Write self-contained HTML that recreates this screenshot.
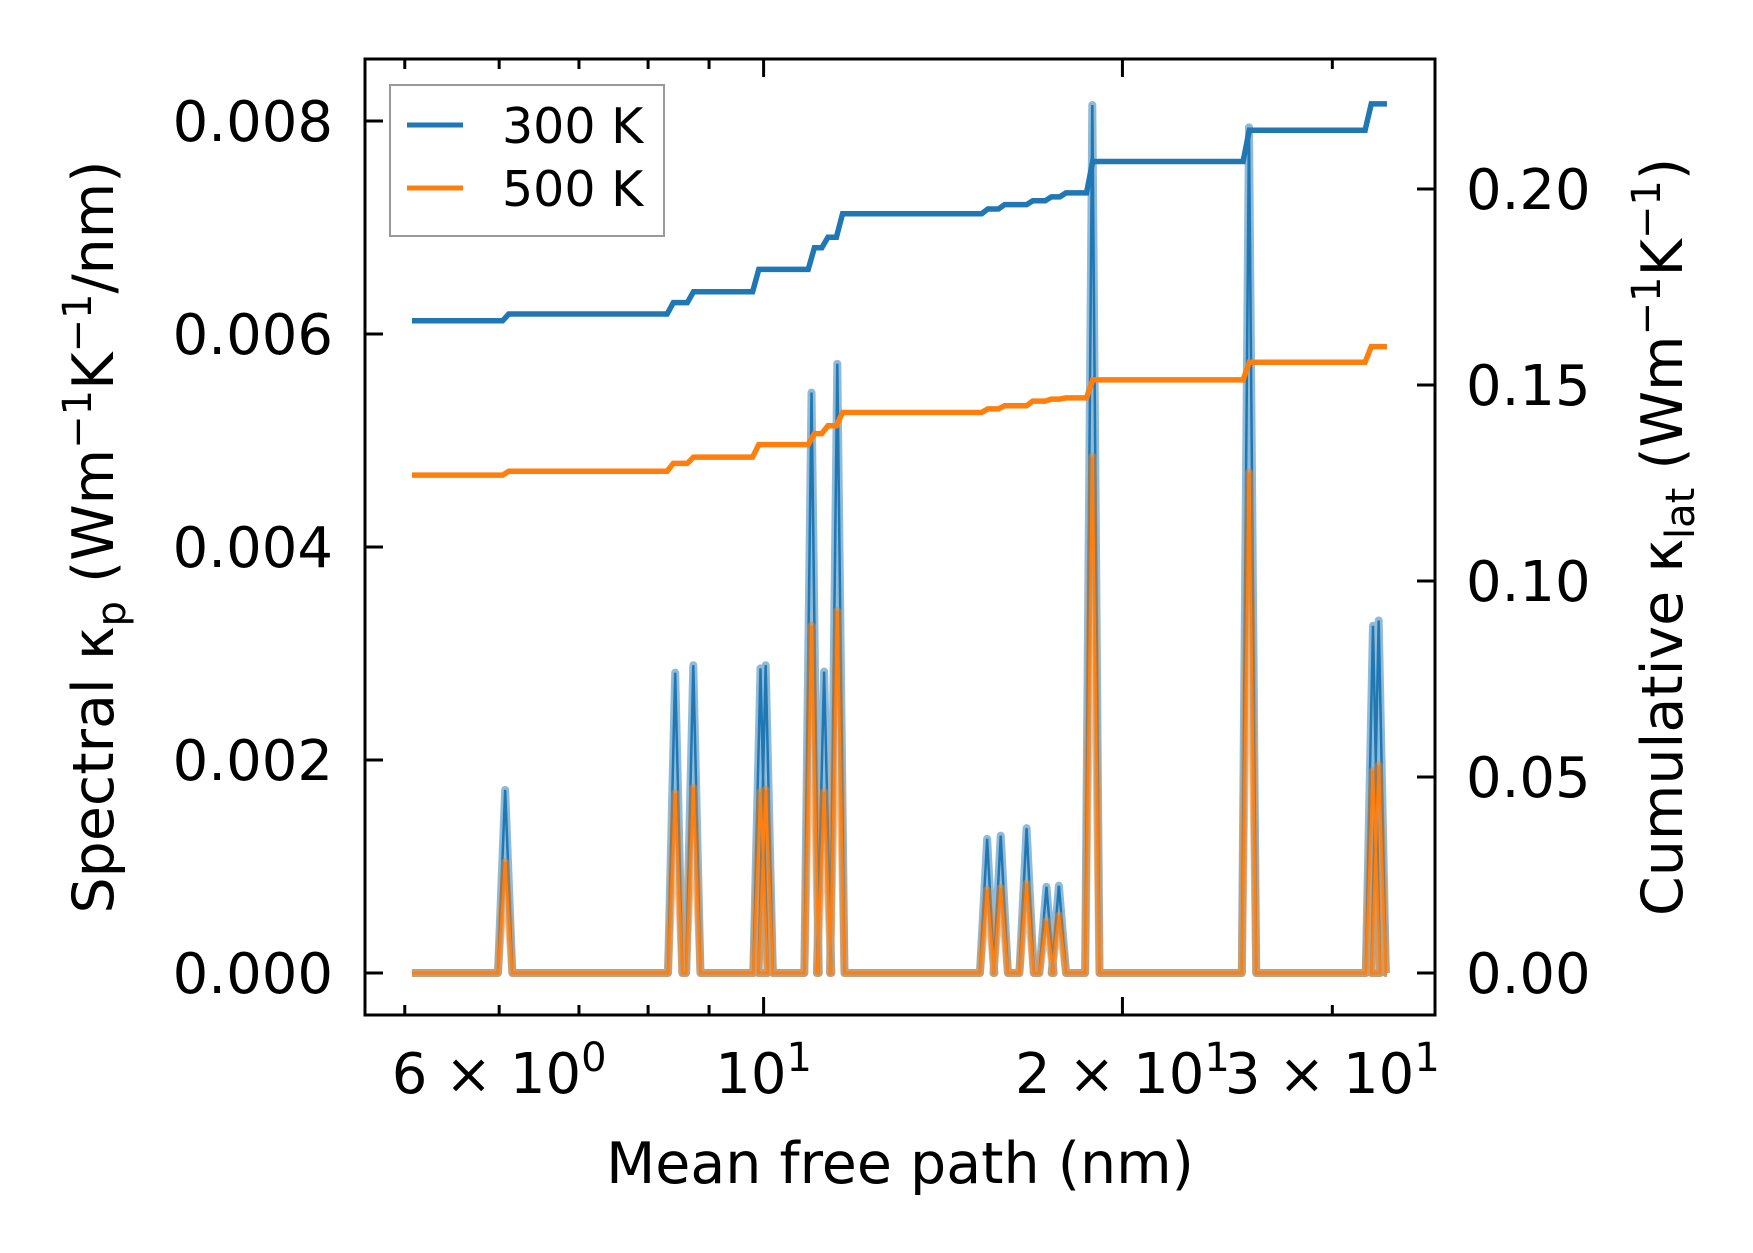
<!DOCTYPE html>
<html><head><meta charset="utf-8"><style>
html,body{margin:0;padding:0;background:#fff;}
svg{display:block;font-family:"DejaVu Sans","Liberation Sans",sans-serif;}
</style></head><body>
<svg id="chart" width="1753" height="1253" viewBox="0 0 1753 1253" xmlns="http://www.w3.org/2000/svg"></svg>
<script>
// ---- data ----
const peakMfp = [6.07, 8.43, 8.73, 9.94, 10.04, 10.97, 11.24, 11.53, 15.40, 15.81, 16.62, 17.27, 17.69, 18.87, 25.54, 32.45, 32.81];
const spec300 = [0.00172, 0.00282, 0.00289, 0.00286, 0.00289, 0.00545, 0.00283, 0.00572, 0.00126, 0.00129, 0.00136, 0.00081, 0.00082, 0.00815, 0.00794, 0.00326, 0.00331];
const spec500 = [0.00104, 0.00169, 0.00174, 0.00170, 0.00172, 0.00326, 0.00170, 0.00340, 0.00078, 0.00080, 0.00084, 0.00049, 0.00054, 0.00485, 0.00470, 0.00190, 0.00195];
const stepMfp = [5.07, 6.04, 8.30, 8.63, 9.79, 10.90, 11.19, 11.51, 15.24, 15.74, 16.62, 17.23, 17.72, 18.66, 25.25, 31.96];
const cum300 = [0.1664, 0.1681, 0.1710, 0.1738, 0.1795, 0.1850, 0.1877, 0.1937, 0.1949, 0.1960, 0.1970, 0.1980, 0.1990, 0.2070, 0.2150, 0.2217];
const cum500 = [0.1270, 0.1280, 0.1300, 0.1316, 0.1348, 0.1376, 0.1396, 0.1430, 0.1439, 0.1447, 0.1459, 0.1464, 0.1467, 0.1513, 0.1558, 0.1598];
const xStart = 5.07, xEnd = 33.34;
const leftTicks = [0, 0.002, 0.004, 0.006, 0.008];
const leftTickLabels = ["0.000", "0.002", "0.004", "0.006", "0.008"];
const rightTicks = [0, 0.05, 0.10, 0.15, 0.20];
const rightTickLabels = ["0.00", "0.05", "0.10", "0.15", "0.20"];
const xMajor = [10];
const xMinor = [5, 6, 7, 8, 9, 20, 30];

// ---- axes ----
const L = 365, R = 1435, T = 59, B = 1015;
const x10 = 763.6, decade = 1192;
const X = v => x10 + Math.log10(v / 10) * decade;
const YL = v => 973 - v / 0.002 * 213;
const YR = v => 973 - v / 0.05 * 196;
const NS = "http://www.w3.org/2000/svg";
const svg = document.getElementById('chart');
function el(tag, attrs, parent) {
  const e = document.createElementNS(NS, tag);
  for (const k in attrs) e.setAttribute(k, attrs[k]);
  (parent || svg).appendChild(e);
  return e;
}

function specPath(vals) {
  let d = `M${X(xStart)},${YL(0)}`;
  peakMfp.forEach((m, i) => {
    d += ` L${X(m / 1.014)},${YL(0)} L${X(m)},${YL(vals[i])} L${X(m * 1.014)},${YL(0)}`;
  });
  d += ` L${X(xEnd)},${YL(0)}`;
  return d;
}
function cumPath(vals) {
  let d = `M${X(stepMfp[0])},${YR(vals[0])}`;
  for (let i = 1; i < stepMfp.length; i++) {
    d += ` L${X(stepMfp[i])},${YR(vals[i - 1])} L${X(stepMfp[i] * 1.012)},${YR(vals[i])}`;
  }
  d += ` L${X(xEnd)},${YR(vals[vals.length - 1])}`;
  return d;
}
const g = el('g', {});


let p;
p = el('path', {d: specPath(spec300), fill: 'none', stroke: '#1f77b4', 'stroke-opacity': 0.5, 'stroke-width': 8, 'stroke-linejoin': 'round'}, g);


p = el('path', {d: specPath(spec300), fill: 'none', stroke: '#1f77b4', 'stroke-width': 2.5}, g);


p = el('path', {d: specPath(spec500), fill: 'none', stroke: '#ff7f0e', 'stroke-opacity': 0.5, 'stroke-width': 8, 'stroke-linejoin': 'round'}, g);


p = el('path', {d: specPath(spec500), fill: 'none', stroke: '#ff7f0e', 'stroke-width': 2.5}, g);


p = el('path', {d: cumPath(cum300), fill: 'none', stroke: '#1f77b4', 'stroke-width': 5.5}, g);


p = el('path', {d: cumPath(cum500), fill: 'none', stroke: '#ff7f0e', 'stroke-width': 5.5}, g);



const fr = el('rect', {x: L, y: T, width: R - L, height: B - T, fill: 'none', stroke: '#000', 'stroke-width': 3});



const tg = el('g', {stroke: '#000', 'stroke-width': 3});


leftTicks.forEach(v => el('line', {x1: L, x2: L + 18, y1: YL(v), y2: YL(v)}, tg));
rightTicks.forEach(v => el('line', {x1: R, x2: R - 18, y1: YR(v), y2: YR(v)}, tg));
xMajor.concat([20]).forEach(v => {
  el('line', {x1: X(v), x2: X(v), y1: B, y2: B - 18}, tg);
  el('line', {x1: X(v), x2: X(v), y1: T, y2: T + 18}, tg);
});
xMinor.filter(v => v !== 20).forEach(v => {
  el('line', {x1: X(v), x2: X(v), y1: B, y2: B - 10}, tg);
  el('line', {x1: X(v), x2: X(v), y1: T, y2: T + 10}, tg);
});

const fs = 56;
leftTicks.forEach((v, i) => {
  const t = el('text', {x: 333, y: YL(v) + 20, 'text-anchor': 'end', 'font-size': fs});
  t.textContent = leftTickLabels[i];
  
  
});
rightTicks.forEach((v, i) => {
  const t = el('text', {x: 1466, y: YR(v) + 20, 'font-size': fs});
  t.textContent = rightTickLabels[i];
  
  
});
function xlabel(v, pre, exp) {
  const t = el('text', {x: X(v), y: 1093, 'text-anchor': 'middle', 'font-size': fs});
  
  
  const a = el('tspan', {}, t); a.textContent = pre;
  const b = el('tspan', {dy: -22, 'font-size': 40}, t); b.textContent = exp;
}
xlabel(6, '6 \u00d7 10', '0');
xlabel(10, '10', '1');
xlabel(20, '2 \u00d7 10', '1');
xlabel(30, '3 \u00d7 10', '1');
</script>
<svg style="position:absolute;left:0;top:0" width="1753" height="1253">
  <text x="900" y="1183" text-anchor="middle" font-size="57" font-family="DejaVu Sans, Liberation Sans, sans-serif">Mean free path (nm)</text>
  <text transform="translate(113,537) rotate(-90)" text-anchor="middle" font-size="57" font-family="DejaVu Sans, Liberation Sans, sans-serif">Spectral κ<tspan font-size="40" dy="12">p</tspan><tspan dy="-12"> (Wm</tspan><tspan font-size="40" dy="-22">−1</tspan><tspan dy="22">K</tspan><tspan font-size="40" dy="-22">−1</tspan><tspan dy="22">/nm)</tspan></text>
  <text transform="translate(1682,537) rotate(-90)" text-anchor="middle" font-size="57" font-family="DejaVu Sans, Liberation Sans, sans-serif">Cumulative κ<tspan font-size="40" dy="12">lat</tspan><tspan dy="-12"> (Wm</tspan><tspan font-size="40" dy="-22">−1</tspan><tspan dy="22">K</tspan><tspan font-size="40" dy="-22">−1</tspan><tspan dy="22">)</tspan></text>
  <g font-family="DejaVu Sans, Liberation Sans, sans-serif">
    <rect x="390" y="85" width="274" height="151" fill="#fff" fill-opacity="0.8" stroke="#999" stroke-width="2"/>
    <line x1="407" x2="463" y1="125" y2="125" stroke="#1f77b4" stroke-width="5"/>
    <text x="502" y="143" font-size="49">300 K</text>
    <line x1="407" x2="463" y1="188" y2="188" stroke="#ff7f0e" stroke-width="5"/>
    <text x="502" y="206" font-size="49">500 K</text>
  </g>
</svg>
</body></html>
